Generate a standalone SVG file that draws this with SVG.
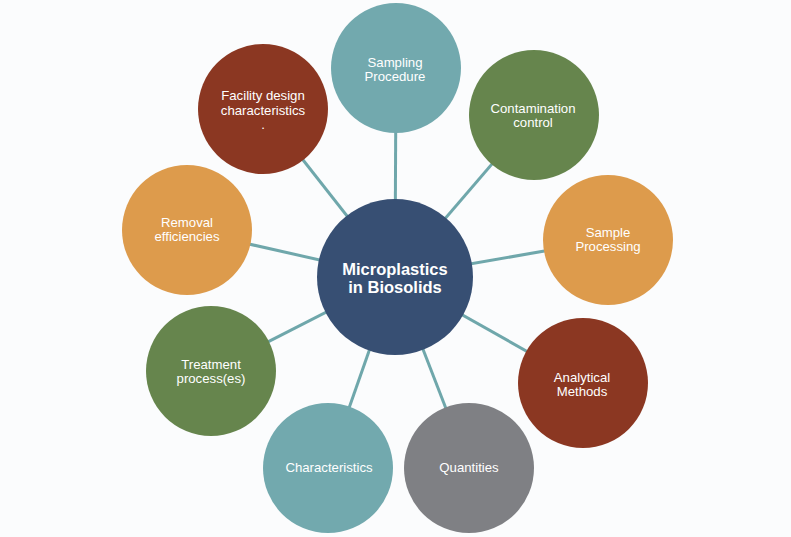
<svg xmlns="http://www.w3.org/2000/svg" width="791" height="537" viewBox="0 0 791 537">
<style>
.bg{fill:#fbfcfd}
.conn line{stroke:#6fa7ab;stroke-width:3;stroke-linecap:butt}
.lbl{font-family:"Liberation Sans",Arial,sans-serif;font-size:13.2px;fill:#ffffff;text-anchor:middle}
.hub{font-family:"Liberation Sans",Arial,sans-serif;font-size:16.5px;font-weight:bold;fill:#ffffff;text-anchor:middle}
.teal{fill:#72a9ae}
.green{fill:#66854d}
.orange{fill:#dd9b4c}
.red{fill:#8b3722}
.gray{fill:#7f8084}
.navy{fill:#374f73}
</style>
<rect class="bg" x="0" y="0" width="791" height="537"/>
<g id="connectors" class="conn">
<line x1="395" y1="277" x2="396" y2="68"/>
<line x1="395" y1="277" x2="534" y2="115"/>
<line x1="395" y1="277" x2="608" y2="240"/>
<line x1="395" y1="277" x2="583" y2="383"/>
<line x1="395" y1="277" x2="469" y2="468"/>
<line x1="395" y1="277" x2="328" y2="468"/>
<line x1="395" y1="277" x2="211" y2="371"/>
<line x1="395" y1="277" x2="187" y2="230"/>
<line x1="395" y1="277" x2="263" y2="109"/>
</g>
<g id="sampling">
<circle class="teal" cx="396" cy="68" r="65"/>
<text class="lbl" x="395" y="66.5">Sampling</text>
<text class="lbl" x="395" y="81">Procedure</text>
</g>
<g id="contamination">
<circle class="green" cx="534" cy="115" r="65"/>
<text class="lbl" x="533" y="112.5">Contamination</text>
<text class="lbl" x="533" y="127">control</text>
</g>
<g id="sample-processing">
<circle class="orange" cx="608" cy="240" r="65"/>
<text class="lbl" x="608" y="236.5">Sample</text>
<text class="lbl" x="608" y="251">Processing</text>
</g>
<g id="analytical">
<circle class="red" cx="583" cy="383" r="65"/>
<text class="lbl" x="582" y="381.5">Analytical</text>
<text class="lbl" x="582" y="396">Methods</text>
</g>
<g id="quantities">
<circle class="gray" cx="469" cy="468" r="65"/>
<text class="lbl" x="469" y="472">Quantities</text>
</g>
<g id="characteristics">
<circle class="teal" cx="328" cy="468" r="65"/>
<text class="lbl" x="329" y="472">Characteristics</text>
</g>
<g id="treatment">
<circle class="green" cx="211" cy="371" r="65"/>
<text class="lbl" x="211" y="368.5">Treatment</text>
<text class="lbl" x="211" y="383">process(es)</text>
</g>
<g id="removal">
<circle class="orange" cx="187" cy="230" r="65"/>
<text class="lbl" x="187" y="226.5">Removal</text>
<text class="lbl" x="187" y="241">efficiencies</text>
</g>
<g id="facility">
<circle class="red" cx="263" cy="109" r="65"/>
<text class="lbl" x="263" y="100">Facility design</text>
<text class="lbl" x="263" y="114.5">characteristics</text>
<text class="lbl" x="263" y="129">.</text>
</g>
<g id="hub">
<circle class="navy" cx="395" cy="277" r="78"/>
<text class="hub" x="395" y="274.5">Microplastics</text>
<text class="hub" x="395" y="293">in Biosolids</text>
</g>
</svg>
